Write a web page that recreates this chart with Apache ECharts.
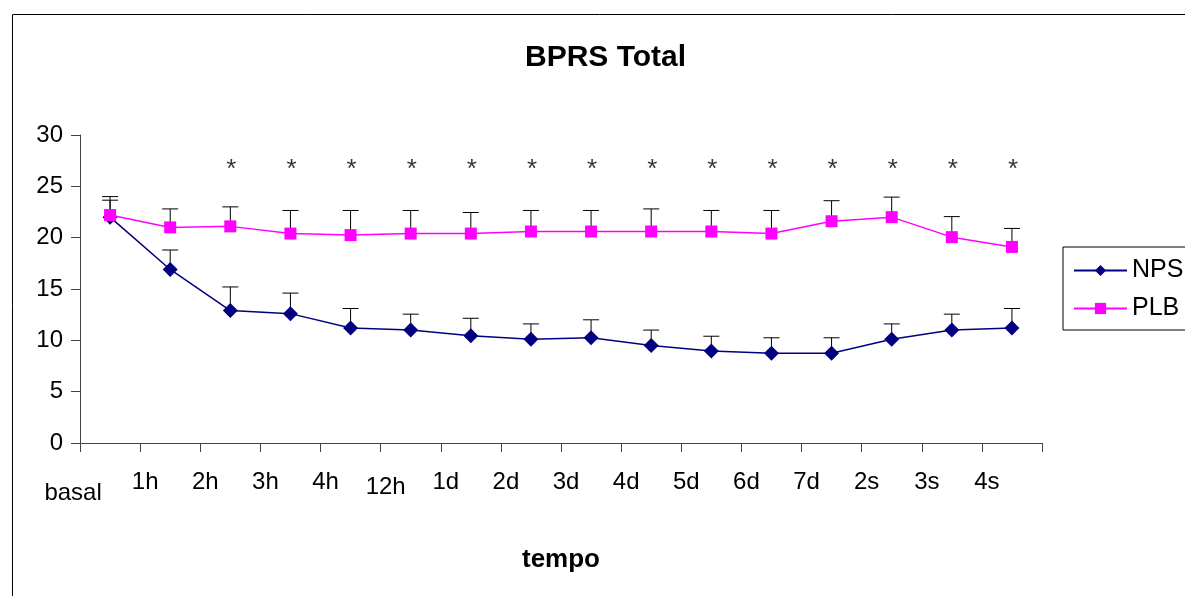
<!DOCTYPE html>
<html>
<head>
<meta charset="utf-8">
<script src="https://cdn.jsdelivr.net/npm/echarts@6/dist/echarts.min.js"></script>
<style>
  html, body { margin: 0; padding: 0; background: #fff; }
  #graph1 { width: 1185px; height: 596px; }
</style>
</head>
<body>
<div id="graph1"></div>
<script>
// BPRS Total - NPS vs PLB ao longo do tempo (media + barra de erro superior)
var categories = ['basal', '1h', '2h', '3h', '4h', '12h', '1d', '2d', '3d', '4d', '5d', '6d', '7d', '2s', '3s', '4s'];
var npsMean  = [22.0, 16.9, 12.9, 12.6, 11.2, 11.0, 10.45, 10.1, 10.25, 9.5, 8.95, 8.75, 8.75, 10.1, 11.0, 11.2];
var npsUpper = [23.65, 18.8, 15.2, 14.6, 13.1, 12.55, 12.15, 11.6, 12.0, 11.0, 10.4, 10.25, 10.25, 11.6, 12.55, 13.1];
var plbMean  = [22.2, 21.0, 21.1, 20.4, 20.25, 20.4, 20.4, 20.6, 20.6, 20.6, 20.6, 20.4, 21.6, 22.0, 20.05, 19.1];
var plbUpper = [24.0, 22.8, 23.0, 22.65, 22.65, 22.65, 22.45, 22.65, 22.65, 22.8, 22.65, 22.65, 23.6, 23.95, 22.05, 20.9];
var signif   = ['', '', '*', '*', '*', '*', '*', '*', '*', '*', '*', '*', '*', '*', '*', '*'];
var starLevel = 27;
var yTicks = [0, 30, 5]; // min, max, intervalo

var fontName = '"Liberation Sans", Arial, sans-serif';

function errData(upper, mean) {
    var out = [];
    for (var i = 0; i < categories.length; i++) {
        out.push([i, mean[i], upper[i]]);
    }
    return out;
}

function renderErr(params, api) {
    var p0 = api.coord([api.value(0), api.value(1)]);
    var p1 = api.coord([api.value(0), api.value(2)]);
    var half = 8;
    var st = { stroke: '#000', lineWidth: 1 };
    return {
        type: 'group',
        children: [
            { type: 'line', shape: { x1: p0[0], y1: p0[1], x2: p1[0], y2: p1[1] }, style: st },
            { type: 'line', shape: { x1: p1[0] - half, y1: p1[1], x2: p1[0] + half, y2: p1[1] }, style: st }
        ]
    };
}

var starData = [];
for (var i = 0; i < signif.length; i++) {
    if (signif[i]) starData.push([i, starLevel, signif[i]]);
}

var myChart = echarts.init(document.getElementById('graph1'));
var option = {
    animation: false,
    textStyle: { fontFamily: fontName },
    title: {
        text: 'BPRS Total',
        left: 520,
        top: 38,
        textStyle: { fontFamily: fontName, fontSize: 30, fontWeight: 'bold', color: '#000' }
    },
    graphic: [{
        type: 'rect',
        left: 10, top: 12,
        shape: { width: 1400, height: 800 },
        style: { fill: 'none', stroke: '#000', lineWidth: 1 },
        z: -1
    }],
    legend: {
        orient: 'vertical',
        left: 1063,
        top: 247,
        padding: [11, 100, 9, 10],
        itemWidth: 53,
        itemHeight: 14,
        itemGap: 13,
        borderColor: '#000',
        borderWidth: 1,
        textStyle: { fontFamily: fontName, fontSize: 25, color: '#000' },
        data: ['NPS', 'PLB']
    },
    grid: { left: 80, right: 143, top: 135, bottom: 153 },
    xAxis: {
        type: 'category',
        data: categories,
        boundaryGap: true,
        name: 'tempo',
        nameLocation: 'middle',
        nameGap: 104,
        nameTextStyle: { fontFamily: fontName, fontSize: 26, fontWeight: 'bold', color: '#000' },
        axisLine: { lineStyle: { color: '#444', width: 1 } },
        axisTick: { show: true, alignWithLabel: false, interval: 0, length: 9, lineStyle: { color: '#444' } },
        axisLabel: {
            interval: 0,
            margin: 27,
            formatter: function (v, idx) {
                if (idx === 0) return '{b|' + v + '}';
                if (idx === 5) return '{m|' + v + '}';
                return '{n|' + v + '}';
            },
            rich: {
                n: { fontFamily: fontName, fontSize: 24, color: '#000', padding: [0, 50, 0, 0] },
                m: { fontFamily: fontName, fontSize: 24, color: '#000', padding: [5, 50, 0, 0] },
                b: { fontFamily: fontName, fontSize: 24, color: '#000', padding: [11, 74, 0, 0] }
            }
        },
        splitLine: { show: false }
    },
    yAxis: {
        type: 'value',
        min: yTicks[0],
        max: yTicks[1],
        interval: yTicks[2],
        axisLine: { show: true, lineStyle: { color: '#444', width: 1 } },
        axisTick: { show: true, length: 9, lineStyle: { color: '#444' } },
        axisLabel: { margin: 17, fontFamily: fontName, fontSize: 24, color: '#000' },
        splitLine: { show: false }
    },
    series: [
        {
            name: 'errNPS',
            type: 'custom',
            renderItem: renderErr,
            data: errData(npsUpper, npsMean),
            encode: { x: 0, y: [1, 2] },
            z: 1
        },
        {
            name: 'errPLB',
            type: 'custom',
            renderItem: renderErr,
            data: errData(plbUpper, plbMean),
            encode: { x: 0, y: [1, 2] },
            z: 1
        },
        {
            name: 'NPS',
            type: 'line',
            data: npsMean,
            symbol: 'diamond',
            symbolSize: 15,
            showAllSymbol: true,
            lineStyle: { color: '#000080', width: 1.5 },
            itemStyle: { color: '#000080' },
            z: 3
        },
        {
            name: 'PLB',
            type: 'line',
            data: plbMean,
            symbol: 'rect',
            symbolSize: 12,
            showAllSymbol: true,
            lineStyle: { color: '#FF00FF', width: 1.5 },
            itemStyle: { color: '#FF00FF' },
            z: 4
        },
        {
            name: 'sig',
            type: 'scatter',
            data: starData,
            symbolSize: 1,
            itemStyle: { color: 'rgba(0,0,0,0)' },
            label: {
                show: true,
                position: 'inside',
                offset: [1, 4],
                formatter: function (p) { return p.data[2]; },
                fontFamily: fontName,
                fontSize: 26,
                color: '#000'
            },
            z: 5
        }
    ]
};
myChart.setOption(option, true);
</script>
</body>
</html>
